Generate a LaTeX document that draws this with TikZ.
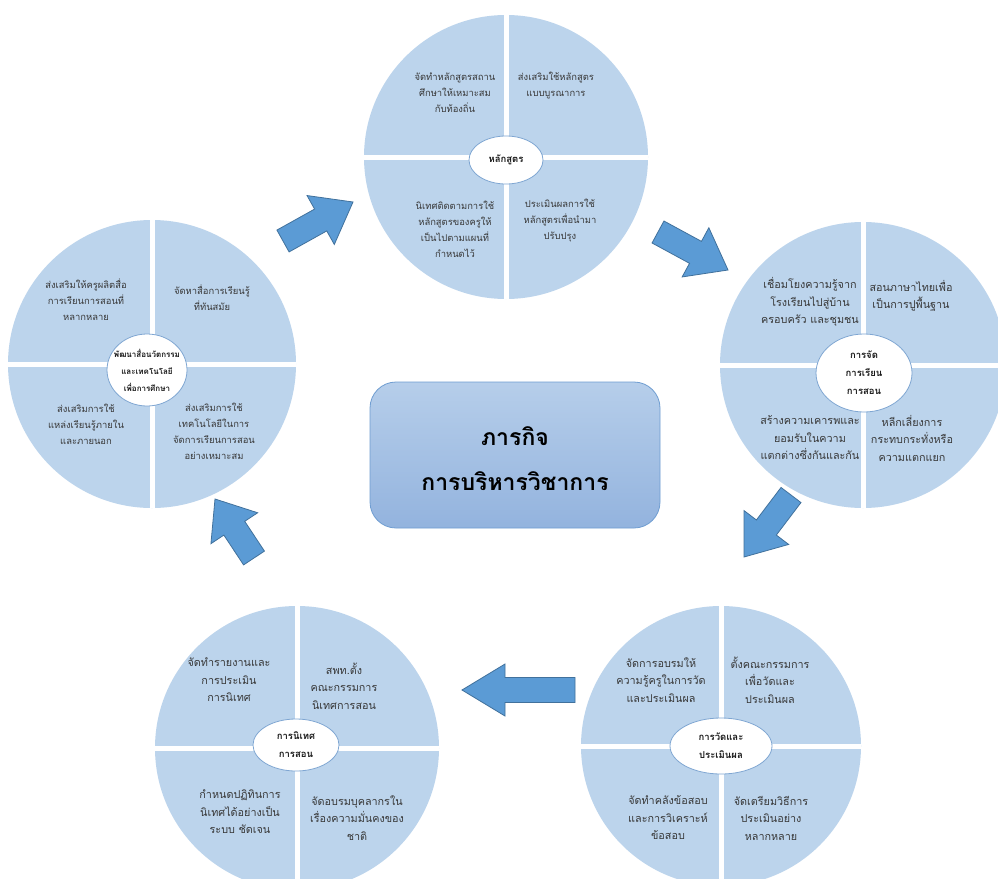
\documentclass[tikz,border=0pt]{standalone}
\usepackage{fontspec}
\newfontfamily\thaifont[Script=Thai]{Loma}
\usetikzlibrary{calc,shapes.geometric}
\definecolor{quadblue}{HTML}{BCD4EC}
\definecolor{txtgray}{HTML}{383838}
\definecolor{hubline}{HTML}{7FA6D2}
\definecolor{arrfill}{HTML}{5B9BD5}
\definecolor{arrline}{HTML}{41719C}
\definecolor{boxtop}{HTML}{B6CEEA}
\definecolor{boxbot}{HTML}{93B3DE}
\definecolor{boxline}{HTML}{6F9DD1}
\tikzset{
  disc/.style={circle, fill=quadblue, inner sep=0pt, minimum size=#1},
  divider/.style={white, line width=5pt},
  hub/.style={ellipse, fill=white, draw=hubline, line width=0.8pt, inner sep=0pt},
  hubtext/.style={font=\thaifont\bfseries\fontsize{9.5}{18}\selectfont, text=black!90, align=center},
  qtext/.style={font=\thaifont\fontsize{10.8}{17.5}\selectfont, text=txtgray, align=center, inner sep=0pt},
  qsmall/.style={qtext, font=\thaifont\fontsize{9.4}{16}\selectfont},
  blockarrow/.style={fill=arrfill, draw=arrline, line width=0.8pt, line join=miter},
}
\newcommand\blockarr[5]{%
  \coordinate (#1n) at ($(#2)!#5!(#1)$);
  \path[blockarrow]
    ($(#1)!#3!90:(#2)$) -- ($(#1n)!#3!-90:(#1)$) -- ($(#1n)!#4!-90:(#1)$) -- (#2)
    -- ($(#1n)!#4!90:(#1)$) -- ($(#1n)!#3!90:(#1)$) -- ($(#1)!#3!-90:(#2)$) -- cycle;
}
\begin{document}
\begin{tikzpicture}[x=1pt,y=-1pt]
\useasboundingbox (0,0) rectangle (998,878);
\clip (0,0) rectangle (998,878);
\fill[white] (0,0) rectangle (998,878);

% ---------- top circle ----------
\node[disc=284pt] (top) at (506,157) {};
\draw[divider] (top.north) -- (top.south);
\draw[divider] (top.west) -- (top.east);
\node[hub, minimum width=74pt, minimum height=48pt] (tophub) at (506,160) {};
\node[hubtext] (tophubt) at (tophub) {หลักสูตร};
\node[qsmall] (toptl) at (455,93) {จัดทำหลักสูตรสถาน\\ศึกษาให้เหมาะสม\\กับท้องถิ่น};
\node[qsmall] (toptr) at (556,86) {ส่งเสริมใช้หลักสูตร\\แบบบูรณาการ};
\node[qsmall] (topbl) at (455,229) {นิเทศติดตามการใช้\\หลักสูตรของครูให้\\เป็นไปตามแผนที่\\กำหนดไว้};
\node[qsmall] (topbr) at (560,221) {ประเมินผลการใช้\\หลักสูตรเพื่อนำมา\\ปรับปรุง};

% ---------- right circle ----------
\node[disc=286pt] (rc) at (863,365) {};
\draw[divider] (rc.north) -- (rc.south);
\draw[divider] (rc.west) -- (rc.east);
\node[hub, minimum width=96pt, minimum height=78pt] (rchub) at (864,373) {};
\node[hubtext] (rchubt) at (rchub) {การจัด\\การเรียน\\การสอน};
\node[qtext] (rctl) at (810,302) {เชื่อมโยงความรู้จาก\\โรงเรียนไปสู่บ้าน\\ครอบครัว และชุมชน};
\node[qtext] (rctr) at (911,296) {สอนภาษาไทยเพื่อ\\เป็นการปูพื้นฐาน};
\node[qtext] (rcbl) at (810,438) {สร้างความเคารพและ\\ยอมรับในความ\\แตกต่างซึ่งกันและกัน};
\node[qtext] (rcbr) at (912,438) {หลีกเลี่ยงการ\\กระทบกระทั่งหรือ\\ความแตกแยก};

% ---------- bottom right circle ----------
\node[disc=280pt] (br) at (721,746) {};
\draw[divider] (br.north) -- (br.south);
\draw[divider] (br.west) -- (br.east);
\node[hub, minimum width=102pt, minimum height=56pt] (brhub) at (721,746) {};
\node[hubtext] (brhubt) at (brhub) {การวัดและ\\ประเมินผล};
\node[qtext] (brtl) at (661,680) {จัดการอบรมให้\\ความรู้ครูในการวัด\\และประเมินผล};
\node[qtext] (brtr) at (770,680) {ตั้งคณะกรรมการ\\เพื่อวัดและ\\ประเมินผล};
\node[qtext] (brbl) at (668,818) {จัดทำคลังข้อสอบ\\และการวิเคราะห์\\ข้อสอบ};
\node[qtext] (brbr) at (771,818) {จัดเตรียมวิธีการ\\ประเมินอย่าง\\หลากหลาย};

% ---------- bottom left circle ----------
\node[disc=284pt] (bl) at (297,748) {};
\draw[divider] (bl.north) -- (bl.south);
\draw[divider] (bl.west) -- (bl.east);
\node[hub, minimum width=86pt, minimum height=52pt] (blhub) at (296,745) {};
\node[hubtext] (blhubt) at (blhub) {การนิเทศ\\การสอน};
\node[qtext] (bltl) at (229,680) {จัดทำรายงานและ\\การประเมิน\\การนิเทศ};
\node[qtext] (bltr) at (344,686) {สพท.ตั้ง\\คณะกรรมการ\\นิเทศการสอน};
\node[qtext] (blbl) at (240,812) {กำหนดปฏิทินการ\\นิเทศได้อย่างเป็น\\ระบบ ชัดเจน};
\node[qtext] (blbr) at (357,818) {จัดอบรมบุคลากรใน\\เรื่องความมั่นคงของ\\ชาติ};

% ---------- left circle ----------
\node[disc=288pt] (lc) at (152,364) {};
\draw[divider] (lc.north) -- (lc.south);
\draw[divider] (lc.west) -- (lc.east);
\node[hub, minimum width=80pt, minimum height=72pt] (lchub) at (147,370) {};
\node[hubtext, font=\thaifont\bfseries\fontsize{8}{17}\selectfont] (lchubt) at (lchub) {พัฒนาสื่อนวัตกรรม\\และเทคโนโลยี\\เพื่อการศึกษา};
\node[qsmall] (lctl) at (86,300) {ส่งเสริมให้ครูผลิตสื่อ\\การเรียนการสอนที่\\หลากหลาย};
\node[qsmall] (lctr) at (212,298) {จัดหาสื่อการเรียนรู้\\ที่ทันสมัย};
\node[qsmall] (lcbl) at (86,424) {ส่งเสริมการใช้\\แหล่งเรียนรู้ภายใน\\และภายนอก};
\node[qsmall] (lcbr) at (214,431) {ส่งเสริมการใช้\\เทคโนโลยีในการ\\จัดการเรียนการสอน\\อย่างเหมาะสม};

% ---------- centre box ----------
\node[draw=boxline, line width=0.8pt, rounded corners=26pt, top color=boxtop, bottom color=boxbot,
      minimum width=290pt, minimum height=146pt] (mission) at (515,455) {};
\node[font=\thaifont\bfseries\fontsize{23}{45}\selectfont, text=black, align=center] (missiont) at (515,459)
  {ภารกิจ\\การบริหารวิชาการ};

% ---------- block arrows ----------
\coordinate (a1s) at (283,241); \coordinate (a1e) at (353,202);
\coordinate (a2s) at (658,232); \coordinate (a2e) at (728,270);
\coordinate (a3s) at (791,495); \coordinate (a3e) at (744,557);
\coordinate (a4s) at (575,690); \coordinate (a4e) at (462,690);
\coordinate (a5s) at (254,558); \coordinate (a5e) at (215,499);
\blockarr{a1s}{a1e}{12.5pt}{28pt}{37pt}
\blockarr{a2s}{a2e}{12.5pt}{28pt}{37pt}
\blockarr{a3s}{a3e}{12.5pt}{28pt}{37pt}
\blockarr{a4s}{a4e}{12.5pt}{26pt}{43pt}
\blockarr{a5s}{a5e}{12.5pt}{28pt}{35pt}
\end{tikzpicture}
\end{document}
